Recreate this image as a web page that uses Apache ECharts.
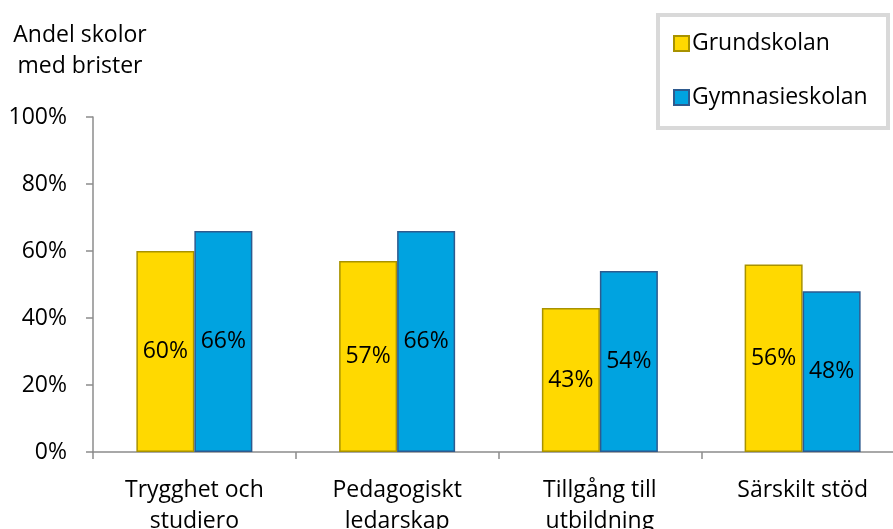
<!DOCTYPE html>
<html>
<head>
<meta charset="utf-8">
<script src="https://cdn.jsdelivr.net/npm/echarts@6/dist/echarts.min.js"></script>
<style>
html,body{margin:0;padding:0;background:#fff;overflow:hidden;}
#chart{width:893px;height:529px;}
</style>
</head>
<body>
<div id="chart"></div>
<script>
const categories = ["Trygghet och\nstudiero", "Pedagogiskt\nledarskap", "Tillgång till\nutbildning", "Särskilt stöd"];
const grundskolan = [60, 57, 43, 56];
const gymnasieskolan = [66, 66, 54, 48];
const yTicks = [0, 20, 40, 60, 80, 100];

const FONT = '"Open Sans", sans-serif';
const FS = 23;
const chart = echarts.init(document.getElementById('chart'), null, {renderer: 'canvas'});
chart.setOption({
  animation: false,
  backgroundColor: '#ffffff',
  textStyle: {fontFamily: FONT},
  title: {
    text: 'Andel skolor\nmed brister',
    left: 75, top: 15,
    textAlign: 'center',
    textStyle: {fontFamily: FONT, fontSize: FS, fontWeight: 'normal', color: '#000', lineHeight: 31, align: 'center'}
  },
  graphic: [{
    type: 'rect', left: 656, top: 13,
    shape: {width: 230, height: 113},
    style: {fill: '#fff', stroke: '#d9d9d9', lineWidth: 4},
    z: 0
  }],
  legend: {
    orient: 'vertical',
    left: 673, top: 32,
    itemWidth: 15, itemHeight: 15,
    itemGap: 31,
    icon: 'rect',
    padding: 0,
    z: 10,
    textStyle: {fontFamily: FONT, fontSize: FS, color: '#000', padding: [0, 0, 0, -2]},
    data: ['Grundskolan', 'Gymnasieskolan']
  },
  grid: {left: 93, top: 117, width: 811, height: 335, containLabel: false, outerBoundsMode: 'none'},
  xAxis: {
    type: 'category',
    data: categories,
    axisLine: {lineStyle: {color: '#8c8c8c', width: 1.5}},
    axisTick: {show: true, length: 7, lineStyle: {color: '#8c8c8c', width: 1.5}},
    axisLabel: {fontFamily: FONT, fontSize: FS, color: '#000', lineHeight: 31, margin: 23, interval: 0}
  },
  yAxis: {
    type: 'value',
    min: 0, max: 100, interval: 20,
    axisLine: {show: true, lineStyle: {color: '#8c8c8c', width: 1.5}},
    axisTick: {show: true, length: 7, lineStyle: {color: '#8c8c8c', width: 1.5}},
    splitLine: {show: false},
    axisLabel: {
      fontFamily: FONT, fontSize: FS, color: '#000', margin: 26,
      formatter: v => (yTicks.includes(v) ? v + '%' : '')
    }
  },
  series: [
    {
      name: 'Grundskolan', type: 'bar', data: grundskolan,
      barWidth: 58, barGap: '0%',
      itemStyle: {color: '#ffd900', borderColor: '#a89200', borderWidth: 1.5},
      label: {show: true, position: 'inside', fontFamily: FONT, fontSize: FS, color: '#000', formatter: p => p.value + '%'}
    },
    {
      name: 'Gymnasieskolan', type: 'bar', data: gymnasieskolan,
      barWidth: 58, barGap: '0%',
      itemStyle: {color: '#00a3e0', borderColor: '#2e5a8e', borderWidth: 1.5},
      label: {show: true, position: 'inside', fontFamily: FONT, fontSize: FS, color: '#000', formatter: p => p.value + '%'}
    }
  ]
});
</script>
</body>
</html>
